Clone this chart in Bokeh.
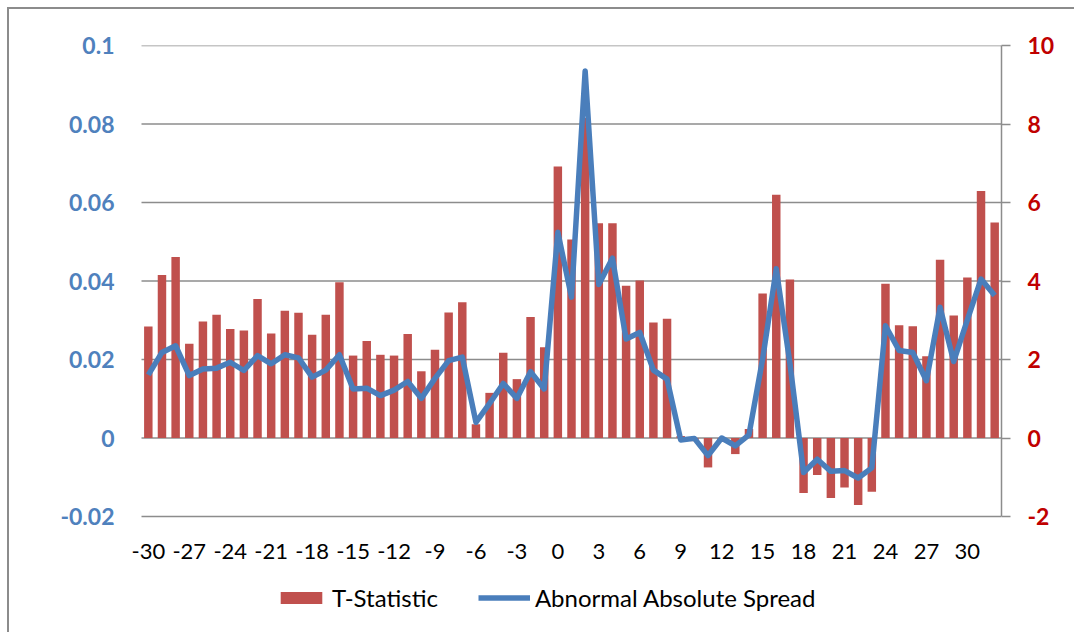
from bokeh.plotting import figure
from bokeh.models import (Range1d, LinearAxis, FixedTicker, CustomJSTickFormatter,
                          Legend, LegendItem, ColumnDataSource)
from bokeh.core.properties import value
from bokeh.embed import file_html
from bokeh.resources import INLINE

# ---- data ----
days = list(range(-30, 33))
t_statistic = [2.84, 4.15, 4.61, 2.40, 2.97, 3.14, 2.78, 2.74, 3.54, 2.66,
               3.24, 3.19, 2.63, 3.14, 3.97, 2.10, 2.47, 2.12, 2.10, 2.65,
               1.70, 2.25, 3.20, 3.46, 0.35, 1.15, 2.17, 1.50, 3.08, 2.31,
               6.92, 5.06, 8.15, 5.47, 5.47, 3.88, 4.01, 2.94, 3.04, 0.05,
               -0.08, -0.75, -0.10, -0.41, 0.23, 3.68, 6.20, 4.04, -1.40, -0.94,
               -1.53, -1.26, -1.71, -1.37, 3.93, 2.87, 2.85, 2.08, 4.54, 3.12,
               4.09, 6.29, 5.49]
abnormal_spread = [0.0161, 0.0218, 0.0235, 0.0159, 0.0176, 0.0178, 0.0193, 0.0172, 0.0210, 0.0189,
                   0.0212, 0.0204, 0.0155, 0.0173, 0.0212, 0.0125, 0.0127, 0.0108, 0.0122, 0.0144,
                   0.0101, 0.0152, 0.0197, 0.0206, 0.0040, 0.0088, 0.0139, 0.0101, 0.0169, 0.0125,
                   0.0524, 0.0359, 0.0935, 0.0391, 0.0458, 0.0252, 0.0269, 0.0173, 0.0150, -0.0005,
                   -0.0001, -0.0045, 0.0000, -0.0020, 0.0008, 0.0201, 0.0431, 0.0190, -0.0088, -0.0054,
                   -0.0085, -0.0083, -0.0102, -0.0076, 0.0286, 0.0223, 0.0218, 0.0146, 0.0333, 0.0195,
                   0.0301, 0.0405, 0.0363]
x_ticks = [-30, -27, -24, -21, -18, -15, -12, -9, -6, -3, 0, 3, 6, 9, 12, 15, 18, 21, 24, 27, 30]
x_tick_labels = ["-30", "-27", "-24", "-21", "-18", "-15", "-12", "-9", "-6", "-3", "0",
                 "3", "6", "9", "12", "15", "18", "21", "24", "27", "30"]
left_ticks = [-0.02, 0, 0.02, 0.04, 0.06, 0.08, 0.1]
right_ticks = [-2, 0, 2, 4, 6, 8, 10]
left_min, left_max = -0.02, 0.1
right_min, right_max = -2, 10

FONT = "Lato"
GRID = "#8c8c8c"

# ---- layout in page pixels ----
ORIGIN = 9                       # figure canvas starts here (margin + border)
PLOT_L, PLOT_R = 141, 1001       # category area
FRAME_L = 121                    # frame a bit wider so the first label is not clipped
PLOT_T, PLOT_B, PAGE_B, PAGE_R = 45, 516, 634, 1076

x_lo, x_hi = days[0] - 0.5, days[-1] + 0.5
px_per_cat = (PLOT_R - PLOT_L) / (x_hi - x_lo)
px_per_unit = (PLOT_B - PLOT_T) / (left_max - left_min)
extra = (PAGE_B - PLOT_B) / px_per_unit
ratio = (right_max - right_min) / (left_max - left_min)

src = ColumnDataSource(dict(x=days, t=t_statistic, s=abnormal_spread))
lab = ColumnDataSource(dict(x=x_ticks, y=[left_min] * len(x_ticks), text=x_tick_labels))
grid = ColumnDataSource(dict(x0=[x_lo] * len(left_ticks), x1=[x_hi] * len(left_ticks),
                             y=left_ticks))

p = figure(width=PAGE_R - ORIGIN, height=PAGE_B - ORIGIN, output_backend="svg",
           toolbar_location=None,
           x_range=Range1d(x_lo - (PLOT_L - FRAME_L) / px_per_cat, x_hi),
           y_range=Range1d(left_min - extra, left_max),
           min_border_left=FRAME_L - ORIGIN, min_border_right=PAGE_R - PLOT_R,
           min_border_top=PLOT_T - ORIGIN, min_border_bottom=0)
p.styles = {"margin-left": "7px", "margin-top": "7px",
            "border-left": "2px solid #8c8c8c", "border-top": "2px solid #8c8c8c"}
p.outline_line_color = None
p.background_fill_color = "white"
p.border_fill_color = "white"
p.xgrid.grid_line_color = None
p.ygrid.grid_line_color = None

p.extra_y_ranges = {"right": Range1d(right_min - extra * ratio, right_max)}

# horizontal gridlines over the category area
p.segment(x0="x0", x1="x1", y0="y", y1="y", source=grid, line_color=GRID, line_width=1.5)

bars = p.vbar(x="x", top="t", width=0.62, bottom=0, source=src, y_range_name="right",
              fill_color="#C0504D", line_color=None)
line = p.line(x="x", y="s", source=src, line_color="#4A7EBB", line_width=5.5,
              line_join="round")

# category labels under the chart
p.text(x="x", y="y", text="text", source=lab, y_offset=35, text_align="center",
       text_baseline="middle", text_font=value(FONT), text_font_size="22px",
       text_color="black")

p.xaxis.visible = False

# left axis
ya = p.yaxis[0]
ya.ticker = FixedTicker(ticks=left_ticks)
ya.formatter = CustomJSTickFormatter(code="return String(Number(tick.toFixed(2)));")
ya.axis_line_color = None
ya.major_tick_line_color = None
ya.minor_tick_line_color = None
ya.major_tick_out = 0
ya.major_label_standoff = 7
ya.major_label_text_font = FONT
ya.major_label_text_font_size = "23px"
ya.major_label_text_font_style = "bold"
ya.major_label_text_color = "#4F81BD"

# right axis
ra = LinearAxis(y_range_name="right", ticker=FixedTicker(ticks=right_ticks),
                formatter=CustomJSTickFormatter(code="return String(tick);"),
                bounds=(right_min, right_max))
ra.axis_line_color = GRID
ra.axis_line_width = 1.5
ra.major_tick_line_color = GRID
ra.major_tick_line_width = 1.5
ra.major_tick_out = 9
ra.major_tick_in = 0
ra.minor_tick_line_color = None
ra.major_label_standoff = 17
ra.major_label_text_font = FONT
ra.major_label_text_font_size = "23px"
ra.major_label_text_font_style = "bold"
ra.major_label_text_color = "#C00000"
p.add_layout(ra, "right")

legend = Legend(items=[LegendItem(label="T-Statistic", renderers=[bars]),
                       LegendItem(label="Abnormal Absolute Spread", renderers=[line])],
                orientation="horizontal", location=(275 - FRAME_L, 22),
                glyph_width=52, glyph_height=15, label_height=22,
                label_standoff=5, spacing=40, padding=0, margin=0,
                border_line_color=None, background_fill_alpha=0,
                label_text_font=FONT, label_text_font_size="24px",
                label_text_color="black")
p.add_layout(legend, "center")

open("out.html", "w").write(file_html(p, INLINE))
